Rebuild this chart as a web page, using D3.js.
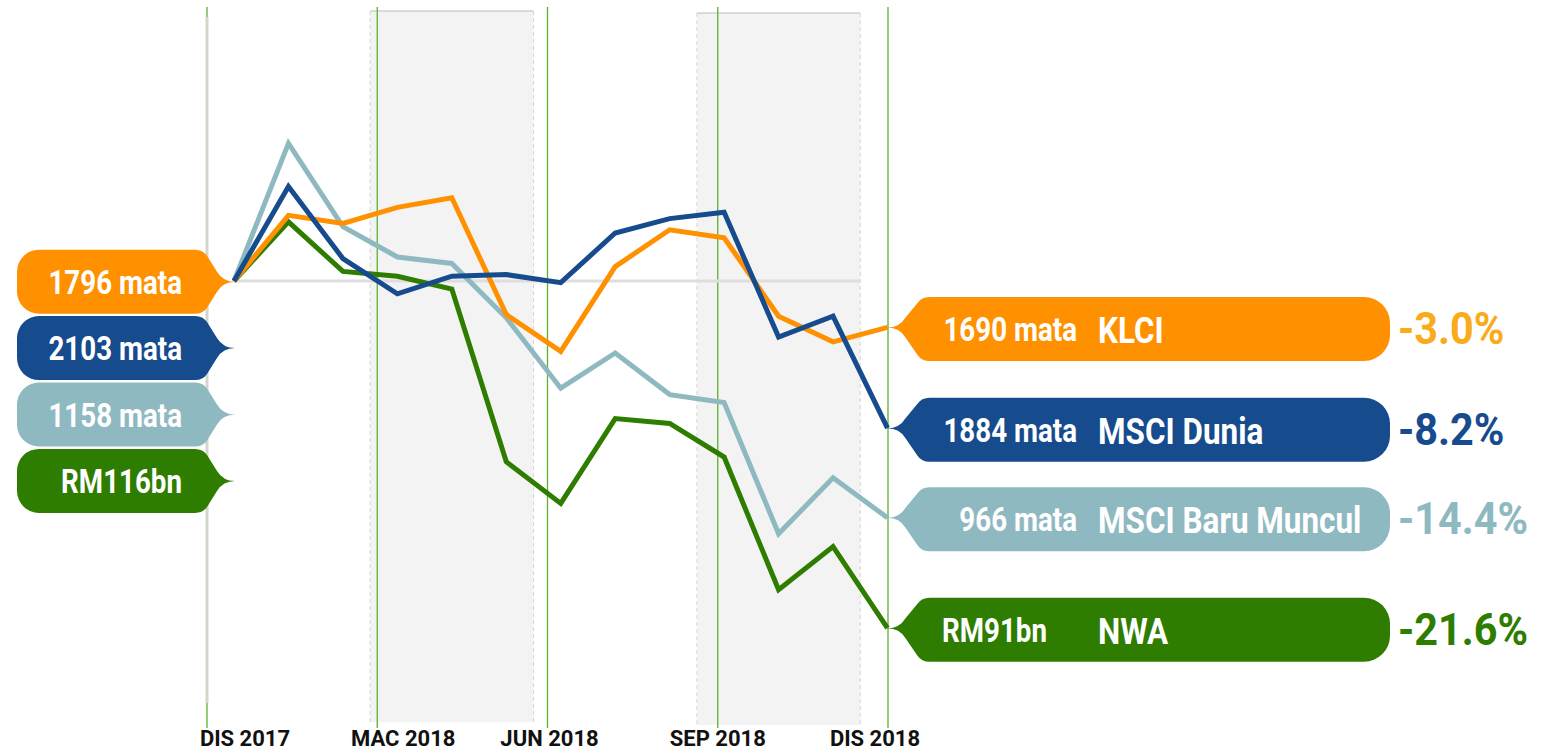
<!DOCTYPE html>
<html>
<head>
<meta charset="utf-8">
<script src="https://cdn.jsdelivr.net/npm/d3@7"></script>
<style>
    body { margin: 0; background: #fff; }
    svg { display: block; font-family: Roboto, 'Noto Sans', sans-serif; font-weight: 700; }
</style>
</head>
<body>
<div id="chart"></div>
<script>
// nilai % perubahan dari DIS 2017 (13 titik bulanan)
const klci      = [0, 4.1, 3.6, 4.6, 5.2, -2.1, -4.4, 0.9, 3.2, 2.7, -2.2, -3.8, -2.9];
const msciDunia = [0, 5.9, 1.4, -0.8, 0.3, 0.4, -0.1, 3.0, 3.9, 4.3, -3.5, -2.2, -9.2];
const msciEM    = [0, 8.6, 3.4, 1.5, 1.1, -2.3, -6.7, -4.5, -7.1, -7.6, -15.8, -12.3, -14.8];
const nwa       = [0, 3.7, 0.6, 0.3, -0.5, -11.3, -13.9, -8.6, -8.9, -11.0, -19.3, -16.6, -21.7];

const seriesNames = ['KLCI', 'MSCI Dunia', 'MSCI Baru Muncul', 'NWA'];
const startLabels = ['1796 mata', '2103 mata', '1158 mata', 'RM116bn'];
const endLabels   = ['1690 mata', '1884 mata', '966 mata', 'RM91bn'];
const pctLabels   = ['-3.0%', '-8.2%', '-14.4%', '-21.6%'];
const tickLabels  = ['DIS 2017', 'MAC 2018', 'JUN 2018', 'SEP 2018', 'DIS 2018'];
const shadedBands = [[2.5, 5.5], [8.5, 11.5]];

const colors    = ['#ff9100', '#164b8d', '#8fb9c1', '#2e7d00'];
const pctColors = ['#f9ab1a', '#164b8d', '#8fb9c1', '#2e7d00'];
const drawOrder = [2, 3, 0, 1];
const labelDx   = [38, 26, 2, 0, -13];

const width = 1544, height = 753;
const values = [klci, msciDunia, msciEM, nwa];

const svg = d3.select('#chart').append('svg')
    .attr('width', width)
    .attr('height', height);

const x = d3.scaleLinear().domain([0, 12]).range([234, 887.5]);
const y = d3.scaleLinear().domain([10, -25]).range([121, 681]);
const xq = d3.scalePoint().domain(tickLabels).range([207, 888]);

// condense text like the original narrow typeface
function condense (sel, k) {
    sel.each(function () {
        const w = this.getComputedTextLength();
        d3.select(this).attr('textLength', w * k).attr('lengthAdjust', 'spacingAndGlyphs');
    });
}

// kawasan berlorek
const bands = svg.append('g');
shadedBands.forEach((b, i) => {
    const x0 = x(b[0]), x1 = x(b[1]);
    const top = i === 0 ? 11 : 13;
    const bottom = i === 0 ? 722 : 725;
    bands.append('rect')
        .attr('x', x0).attr('y', top)
        .attr('width', x1 - x0).attr('height', bottom - top)
        .attr('fill', '#f3f3f3');
    bands.append('line')
        .attr('x1', x0).attr('x2', x1).attr('y1', top).attr('y2', top)
        .attr('stroke', '#bdbdbd').attr('stroke-width', 1);
    [x0, x1].forEach((xx) => {
        bands.append('line')
            .attr('x1', xx).attr('x2', xx).attr('y1', top).attr('y2', bottom)
            .attr('stroke', '#d6d6d6').attr('stroke-width', 1)
            .attr('stroke-dasharray', '4,3');
    });
});

// garis suku tahun
svg.append('g').selectAll('line')
    .data(tickLabels)
    .enter()
    .append('line')
    .attr('x1', (d) => xq(d)).attr('x2', (d) => xq(d))
    .attr('y1', 7).attr('y2', 728)
    .attr('stroke', '#5cb030')
    .attr('stroke-width', 1.3);

svg.append('line')
    .attr('x1', xq(tickLabels[0])).attr('x2', xq(tickLabels[0]))
    .attr('y1', 17).attr('y2', 703)
    .attr('stroke', '#d3d6cc')
    .attr('stroke-width', 3);

svg.append('g').selectAll('text')
    .data(tickLabels)
    .enter()
    .append('text')
    .attr('x', (d, i) => xq(d) + labelDx[i])
    .attr('y', 746)
    .attr('text-anchor', 'middle')
    .attr('font-size', 22)
    .attr('fill', '#111')
    .text((d) => d);

// garis sifar
svg.append('line')
    .attr('x1', x(0)).attr('x2', x(11.5))
    .attr('y1', y(0)).attr('y2', y(0))
    .attr('stroke', '#dedede')
    .attr('stroke-width', 3);

// garis siri
const line = d3.line()
    .x((d, i) => x(i))
    .y((d) => y(d));

svg.append('g').selectAll('path')
    .data(drawOrder)
    .enter()
    .append('path')
    .attr('d', (k) => line(values[k]))
    .attr('fill', 'none')
    .attr('stroke', (k) => colors[k])
    .attr('stroke-width', 5)
    .attr('stroke-linejoin', 'miter');

// label kiri (nilai DIS 2017)
function leftTag (tipX, cy) {
    const y0 = cy - 32, y1 = cy + 32, x0 = 17, r = 22, b = tipX - 40;
    return `M${x0 + r},${y0} H${b} Q${b + 8},${y0} ${b + 12},${y0 + 6}` +
        ` L${tipX - 18},${cy - 10} Q${tipX - 12},${cy} ${tipX},${cy}` +
        ` Q${tipX - 12},${cy} ${tipX - 18},${cy + 10} L${b + 12},${y1 - 6}` +
        ` Q${b + 8},${y1} ${b},${y1} H${x0 + r} A${r},${r} 0 0 1 ${x0},${y1 - r}` +
        ` V${y0 + r} A${r},${r} 0 0 1 ${x0 + r},${y0} Z`;
}

const leftG = svg.append('g');
startLabels.forEach((lab, i) => {
    const cy = y(0) + 0.7 + i * 66.4;
    leftG.append('path')
        .attr('d', leftTag(235, cy))
        .attr('fill', colors[i]);
    leftG.append('text')
        .attr('x', 182).attr('y', cy + 12)
        .attr('text-anchor', 'end')
        .attr('font-size', 33)
        .attr('fill', '#fff')
        .text(lab)
        .call(condense, 0.84);
});

// label kanan (nilai DIS 2018)
function rightTag (tipX, ty, cy) {
    const y0 = cy - 32, y1 = cy + 32, x1 = 1390, r = 26, b = tipX + 42;
    return `M${tipX},${ty} Q${tipX + 12},${ty} ${tipX + 18},${ty - 10}` +
        ` L${tipX + 30},${y0 + 6} Q${tipX + 34},${y0} ${b},${y0} H${x1 - r}` +
        ` A${r},${r} 0 0 1 ${x1},${y0 + r} V${y1 - r} A${r},${r} 0 0 1 ${x1 - r},${y1}` +
        ` H${b} Q${tipX + 34},${y1} ${tipX + 30},${y1 - 6}` +
        ` L${tipX + 18},${ty + 10} Q${tipX + 12},${ty} ${tipX},${ty} Z`;
}

const rightG = svg.append('g');
seriesNames.forEach((name, i) => {
    const last = values[i][values[i].length - 1];
    const ty = y(last);
    const cy = ty + 1.5;
    rightG.append('path')
        .attr('d', rightTag(x(12), ty, cy))
        .attr('fill', colors[i]);
    const isMata = endLabels[i].indexOf('mata') >= 0;
    rightG.append('text')
        .attr('x', isMata ? 1077 : 942).attr('y', cy + 12)
        .attr('text-anchor', isMata ? 'end' : 'start')
        .attr('font-size', 33)
        .attr('fill', '#fff')
        .text(endLabels[i])
        .call(condense, 0.84);
    rightG.append('text')
        .attr('x', 1098).attr('y', cy + 14)
        .attr('font-size', 37)
        .attr('fill', '#fff')
        .text(name)
        .call(condense, 0.85);
    rightG.append('text')
        .attr('x', 1398).attr('y', cy + 15)
        .attr('font-size', 45)
        .attr('fill', pctColors[i])
        .text(pctLabels[i])
        .call(condense, 0.92);
});
</script>
</body>
</html>
